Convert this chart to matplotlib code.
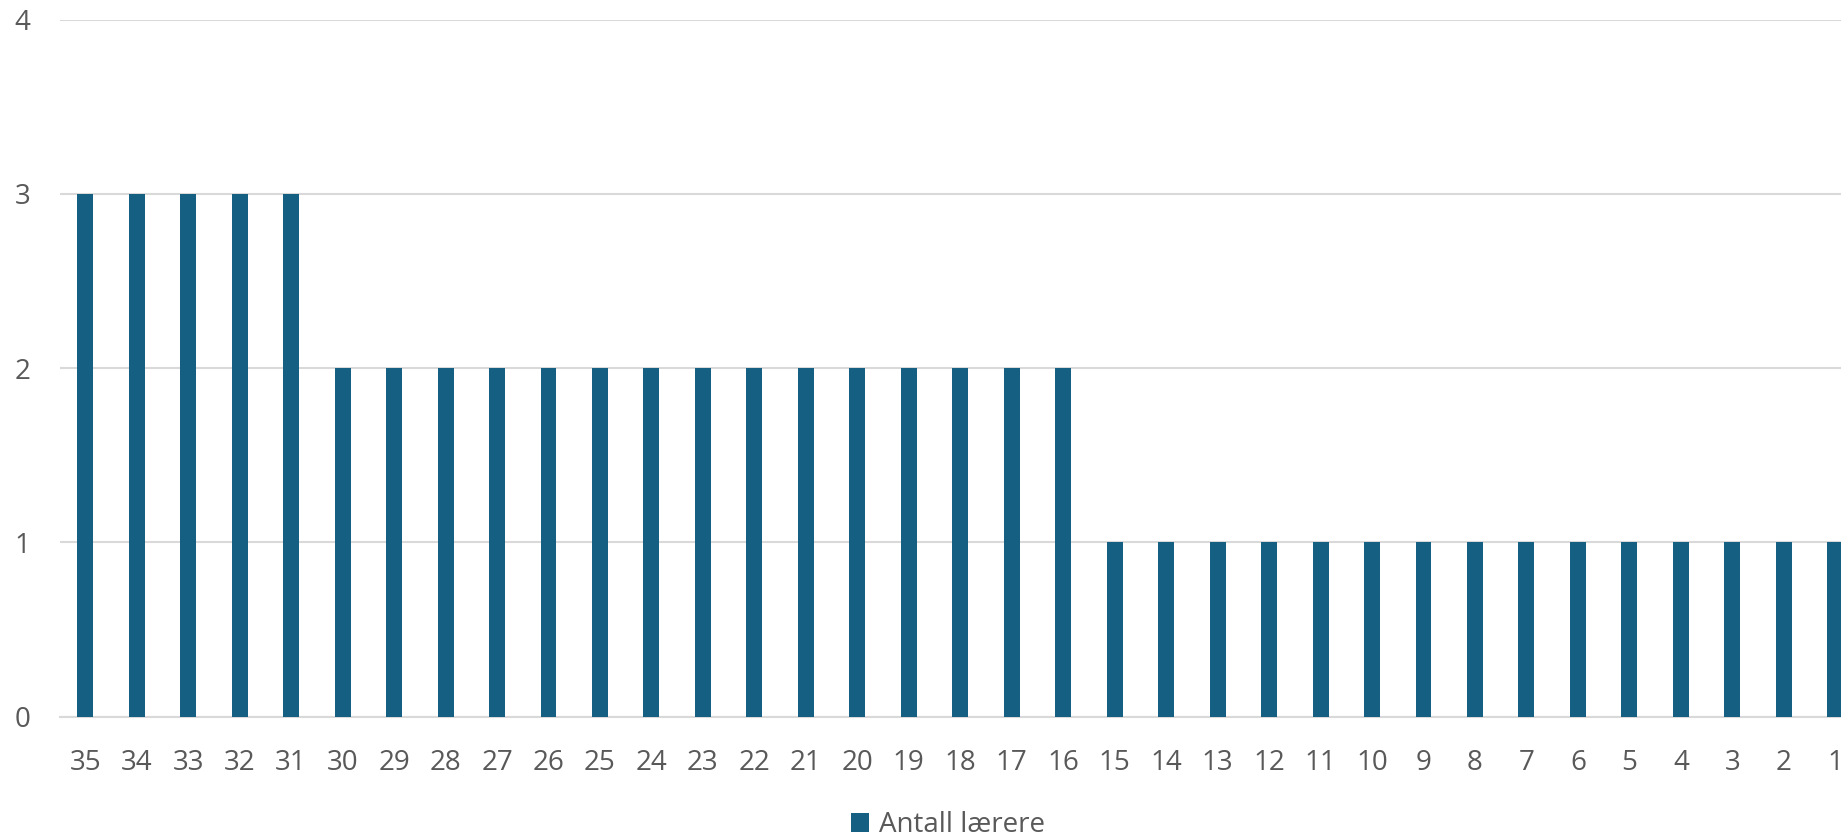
import matplotlib.pyplot as plt

# categories run from 35 down to 1
categories = [str(n) for n in range(35, 0, -1)]
values = [3] * 5 + [2] * 15 + [1] * 15
series_name = "Antall lærere"
y_ticks = [0, 1, 2, 3, 4]

bar_color = "#156082"
grid_color = "#D9D9D9"
text_color = "#595959"

plt.rcParams["font.family"] = ["Open Sans", "DejaVu Sans"]

fig = plt.figure(figsize=(18.41, 8.36), dpi=100)
# axes runs past the right edge of the figure, as in the original
ax = fig.add_axes([59.5 / 1841, (836 - 716.7) / 836, 1801.5 / 1841, 697.2 / 836])

x = range(len(categories))
ax.bar(x, values, width=0.31, color=bar_color, label=series_name, zorder=3)

ax.set_xlim(-0.5, len(categories) - 0.5)
ax.set_ylim(0, 4)
ax.set_yticks(y_ticks)
ax.set_xticks(list(x))
ax.set_xticklabels(categories)

ax.grid(axis="y", color=grid_color, linewidth=1.5, zorder=0)
for side in ["top", "right", "left"]:
    ax.spines[side].set_visible(False)
ax.spines["bottom"].set_color(grid_color)
ax.spines["bottom"].set_linewidth(1.5)

ax.tick_params(axis="both", length=0, labelsize=20, labelcolor=text_color)
ax.tick_params(axis="y", pad=21)
ax.tick_params(axis="x", pad=23)

fig.legend(
    loc="center",
    bbox_to_anchor=(0.515, 0.013),
    frameon=False,
    fontsize=20,
    labelcolor=text_color,
    handlelength=0.65,
    handleheight=0.65,
    handletextpad=0.35,
)

fig.savefig("out.png", dpi=100)
